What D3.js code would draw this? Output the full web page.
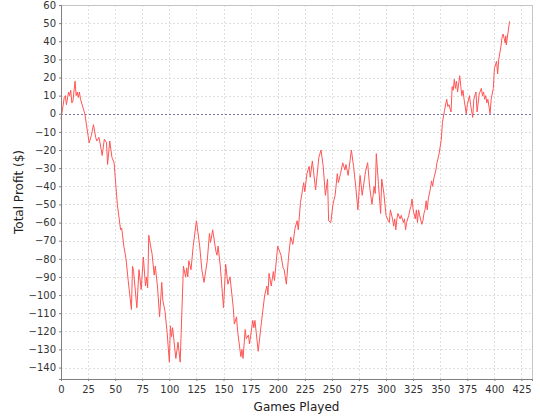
<!DOCTYPE html>
<html>
<head>
<meta charset="utf-8">
<script src="https://cdn.jsdelivr.net/npm/d3@7"></script>
<style>
  body { margin: 0; background: #fff; }
  text { font-family: "DejaVu Sans", sans-serif; }
</style>
</head>
<body>
<svg id="chart" width="540" height="420"></svg>
<script>
// games played (x) and total profit in $ (y)
var games = [0, 3, 4, 5, 7, 8, 9, 10, 11, 13, 14, 15, 16, 17, 18, 22, 25, 26, 27, 28, 30, 32, 33, 35, 36, 38, 40, 42, 43, 45, 47, 49,
  52, 55, 56, 58, 60, 62, 65, 66, 67, 70, 72, 74, 76, 78, 79, 80, 81, 83, 84, 86, 87, 89, 91, 93, 94, 96, 98, 100,
  101, 102, 103, 106, 108, 110, 113, 115, 116, 117, 118, 120, 122, 125, 128, 130, 132, 135, 137, 138, 140, 143, 144, 145, 147,
  150, 152, 154, 156, 159, 160, 162, 163, 166, 167, 168, 170, 171, 173, 174, 177, 178, 179, 182, 185, 188, 190, 191, 192, 194, 196, 197,
  200, 203, 205, 206, 208, 210, 212, 214, 216, 218, 219, 221, 224, 225, 227, 229, 230, 232, 235, 236, 238, 240, 242, 244, 246, 247, 249,
  251, 253, 255, 256, 258, 260, 262, 263, 265, 268, 270, 272, 274, 276, 278, 281, 283, 285, 287, 289, 290, 291, 293, 295, 296, 298,
  300, 302, 303, 304, 306, 307, 308, 309, 310, 311, 313, 314, 316, 317, 318, 319, 321, 322, 323, 324, 325, 327, 328, 329, 330, 331, 333, 334, 335, 336, 337, 338, 339,
  341, 342, 343, 344, 346, 347, 349, 351, 352, 354, 356, 357, 358, 360, 361, 362, 363, 364, 365, 366, 368, 369, 370, 371, 372, 374, 375, 377, 378,
  380, 381, 383, 384, 386, 388, 389, 390, 391, 392, 393, 394, 396, 397, 399, 400, 402, 403, 404, 406, 407, 408, 410, 410.5, 411, 414];
var profit = [-3, 9, 10, 5, 12, 10, 13, 6, 7, 18, 10, 12, 9, 12, 8, 0, -12, -16, -14, -12, -6, -13, -15, -13, -16, -23, -14, -16, -28, -15, -24, -27,
  -50, -64, -63, -73, -80, -92, -108, -84, -87, -107, -86, -97, -79, -95, -90, -96, -67, -74, -77, -89, -84, -95, -112, -93, -103, -109, -121, -137,
  -117, -123, -118, -135, -126, -137, -84, -90, -85, -90, -81, -86, -73, -59, -73, -86, -93, -81, -66, -71, -64, -76, -78, -73, -84,
  -107, -83, -94, -90, -107, -116, -112, -120, -134, -130, -135, -119, -124, -122, -127, -114, -118, -114, -131, -115, -100, -95, -100, -88, -95, -87, -92,
  -73, -78, -85, -86, -94, -79, -68, -72, -63, -59, -64, -49, -38, -43, -33, -29, -35, -26, -42, -36, -24, -20, -29, -45, -36, -59, -60,
  -50, -45, -33, -38, -33, -27, -31, -28, -34, -20, -29, -40, -53, -34, -45, -32, -27, -41, -50, -40, -44, -22, -39, -55, -36, -44,
  -56, -59, -60, -53, -58, -62, -58, -64, -58, -55, -58, -56, -60, -58, -64, -60, -56, -53, -51, -47, -53, -58, -53, -60, -53, -56, -61, -59, -55, -53, -48, -53, -47,
  -41, -37, -40, -36, -31, -27, -22, -14, -5, 2, 8, 4, 5, 1, 15, 13, 19, 14, 18, 12, 21, 15, 10, 13, 8, 0, 5, 10, 5,
  -2, 8, 12, 1, 11, 14, 10, 12, 8, 10, 6, 8, 0, 8, 14, 25, 29, 22, 30, 37, 42, 44, 39, 43, 38, 51];
var xTicks = d3.range(0, 426, 25);
var yTicks = d3.range(-140, 61, 10);

var data = games.map(function(g, i) { return {g: g, p: profit[i]}; });

var svg = d3.select("#chart"),
    margin = {top: 5, right: 8, bottom: 41, left: 61},
    width = 540 - margin.left - margin.right,
    height = 420 - margin.top - margin.bottom,
    g = svg.append("g").attr("transform", "translate(" + margin.left + "," + margin.top + ")");

var x = d3.scaleLinear().domain([0, 434.7]).range([0, width]);
var y = d3.scaleLinear().domain([-146.3, 60]).range([height, 0]);

// grid
g.append("g").selectAll("line").data(xTicks).enter().append("line")
    .attr("x1", function(d) { return Math.round(x(d)) + 0.5; }).attr("x2", function(d) { return Math.round(x(d)) + 0.5; })
    .attr("y1", 0).attr("y2", height)
    .attr("stroke", "#dedede").attr("stroke-dasharray", "2,2");
g.append("g").selectAll("line").data(yTicks).enter().append("line")
    .attr("y1", function(d) { return Math.round(y(d)) + 0.5; }).attr("y2", function(d) { return Math.round(y(d)) + 0.5; })
    .attr("x1", 0).attr("x2", width)
    .attr("stroke", "#dedede").attr("stroke-dasharray", "2,2");

// plot outline (top / right)
g.append("rect").attr("x", 0.5).attr("y", 0.5).attr("width", width).attr("height", height)
    .attr("fill", "none").attr("stroke", "#c4c4c4");

// zero line
g.append("line")
    .attr("x1", 0).attr("x2", width)
    .attr("y1", Math.round(y(0)) + 0.5).attr("y2", Math.round(y(0)) + 0.5)
    .attr("stroke", "#7777aa").attr("stroke-dasharray", "2,2");

// the profit line
var line = d3.line().x(function(d) { return x(d.g); }).y(function(d) { return y(d.p); });
g.append("path").datum(data)
    .attr("d", line)
    .attr("fill", "none")
    .attr("stroke", "#ff5555")
    .attr("stroke-width", 1);

// axes
var xAxis = g.append("g").attr("transform", "translate(0," + height + ")")
    .call(d3.axisBottom(x).tickValues(xTicks).tickSize(2).tickPadding(5));
var yAxis = g.append("g")
    .call(d3.axisLeft(y).tickValues(yTicks).tickSize(2).tickPadding(3));
[xAxis, yAxis].forEach(function(a) {
  a.select(".domain").attr("stroke", "#808080");
  a.selectAll(".tick line").attr("stroke", "#808080");
  a.selectAll(".tick text").attr("fill", "#333").style("font-size", "10px")
    .style("font-family", "'DejaVu Sans', sans-serif");
});

// axis labels
svg.append("text")
    .attr("x", margin.left + width / 2).attr("y", 411)
    .attr("text-anchor", "middle").attr("font-size", "12px").attr("fill", "#222")
    .text("Games Played");
svg.append("text")
    .attr("transform", "translate(23," + (margin.top + height / 2) + ") rotate(-90)")
    .attr("text-anchor", "middle").attr("font-size", "12px").attr("fill", "#222")
    .text("Total Profit ($)");
</script>
</body>
</html>
